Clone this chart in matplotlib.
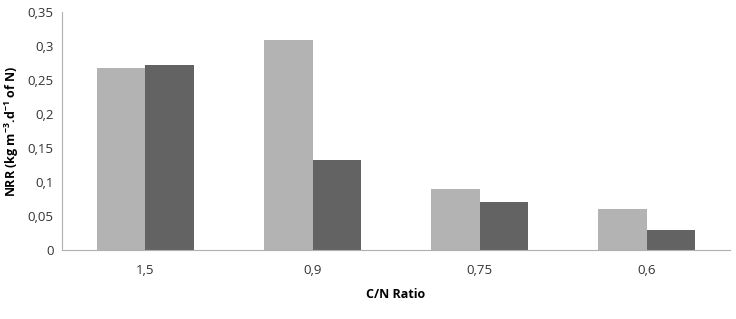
import numpy as np
import matplotlib
matplotlib.use("Agg")
import matplotlib.pyplot as plt
from matplotlib.ticker import FuncFormatter

# --- data ---------------------------------------------------------------
categories = ["1,5", "0,9", "0,75", "0,6"]
series_a = [0.268, 0.309, 0.090, 0.060]   # light grey
series_b = [0.272, 0.132, 0.070, 0.030]   # dark grey
y_ticks = [0, 0.05, 0.1, 0.15, 0.2, 0.25, 0.3, 0.35]

plt.rcParams["font.family"] = ["Open Sans", "DejaVu Sans"]
plt.rcParams["mathtext.fontset"] = "custom"
plt.rcParams["mathtext.bf"] = "Open Sans:bold"
plt.rcParams["mathtext.rm"] = "Open Sans"

fig = plt.figure(figsize=(7.36, 3.19), dpi=100)
ax = fig.add_axes([0.0842, 0.2163, 0.9078, 0.7461])

x = np.arange(len(categories))
w = 0.29
ax.bar(x - w / 2, series_a, width=w, color="#b3b3b3")
ax.bar(x + w / 2, series_b, width=w, color="#636363")

ax.set_xlim(-0.5, len(categories) - 0.5)
ax.set_ylim(0, 0.35)
ax.set_yticks(y_ticks)
ax.yaxis.set_major_formatter(
    FuncFormatter(lambda v, _: f"{v:g}".replace(".", ",")))
ax.set_xticks(x)
ax.set_xticklabels(categories)
ax.tick_params(axis="both", length=0, labelsize=9.5, colors="#333333")
ax.tick_params(axis="x", pad=10)
ax.tick_params(axis="y", pad=6)

for s in ("top", "right"):
    ax.spines[s].set_visible(False)
for s in ("left", "bottom"):
    ax.spines[s].set_color("#b0b0b0")

ax.set_xlabel("C/N Ratio", fontsize=9, fontweight="bold", labelpad=8)
ax.set_ylabel("NRR (kg m$^{\\mathbf{-3}}$.d$^{\\mathbf{-1}}$ of N)",
              fontsize=9, fontweight="bold", labelpad=5)

fig.savefig("out.png", dpi=100, facecolor="white")
